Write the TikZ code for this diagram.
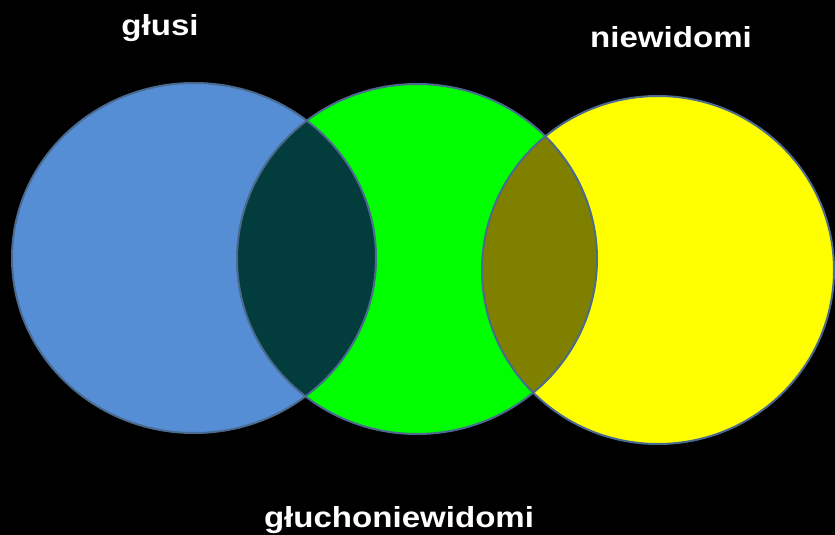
\documentclass[tikz,border=0pt]{standalone}
\usepackage{fontspec}
\setmainfont{Liberation Sans}
\usepackage{xcolor}
\definecolor{deafblue}{HTML}{558ED5}
\definecolor{midgreen}{HTML}{00FF00}
\definecolor{blindyel}{HTML}{FFFF00}
\definecolor{darkcap}{HTML}{033C3D}
\definecolor{olivecap}{HTML}{808000}
\definecolor{rimc}{HTML}{4A6A8F}
\def\deafpath{(194,258) ellipse [x radius=182pt,y radius=175pt]}
\def\midpath{(417,259) ellipse [x radius=180pt,y radius=175pt]}
\def\blindpath{(658,270) ellipse [x radius=176pt,y radius=174pt]}

\begin{document}
\begin{tikzpicture}[x=1pt,y=-1pt,
 lbl/.style={text=white,font=\bfseries\fontsize{29}{31}\selectfont,
 xscale=1.14,anchor=base,inner sep=0pt},
 rim/.style={draw=rimc,line width=2pt}]
 % background
 \fill[black] (0,0) rectangle (835,535);
 \useasboundingbox (0,0) rectangle (835,535);
 % fills
 \fill[deafblue] \deafpath;
 \fill[midgreen] \midpath;
 \fill[blindyel] \blindpath;
 \begin{scope}
  \clip \deafpath;
  \fill[darkcap] \midpath;
 \end{scope}
 \begin{scope}
  \clip \midpath;
  \fill[olivecap] \blindpath;
 \end{scope}
 % outlines
 \draw[rim] \deafpath; \draw[rim] \midpath; \draw[rim] \blindpath;
 % labels
 \node[lbl] (g) at (160,36) {głusi};
 \node[lbl] (n) at (671,48) {niewidomi};
 \node[lbl] (gn) at (399,527) {głuchoniewidomi};
\end{tikzpicture}
\end{document}
